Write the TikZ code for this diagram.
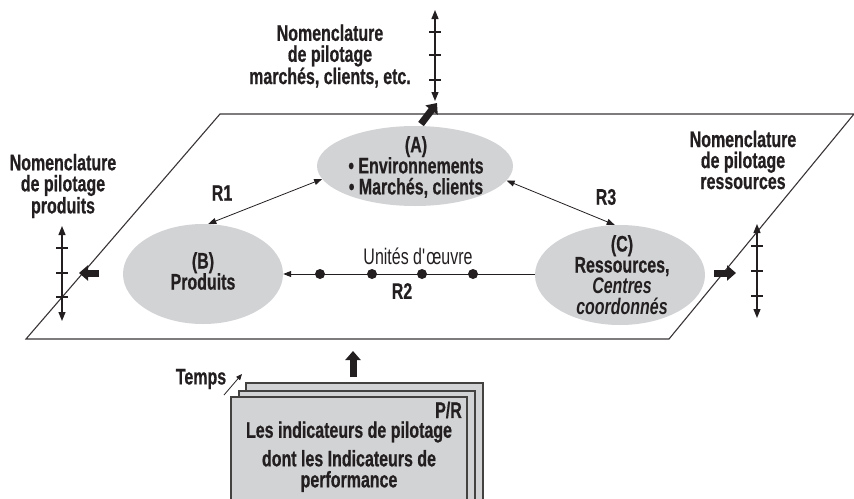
\documentclass[tikz,border=0pt]{standalone}
\usepackage{fontspec}
\setmainfont[FakeStretch=0.71, BoldFeatures={FakeBold=0.6}]{Liberation Sans}
\usetikzlibrary{shapes.geometric,arrows.meta}

\definecolor{ink}{HTML}{231F20}
\definecolor{bubblegray}{HTML}{D2D3D5}

\tikzset{
  bubble/.style={ellipse, fill=bubblegray, draw=none, inner sep=0pt},
  txt/.style={align=center, inner sep=0pt, text=ink},
  frame/.style={draw=ink!90, line width=1.1pt},
  link/.style={draw=ink, line width=0.8pt,
    {Triangle[length=8pt,width=6pt]}-{Triangle[length=8pt,width=6pt]}},
  flow/.style={draw=ink, line width=0.9pt, -{Triangle[length=8pt,width=6pt]}},
  scaleaxis/.style={draw=ink, line width=1.2pt,
    {Triangle[length=9pt,width=7pt]}-{Triangle[length=9pt,width=7pt]}},
  tickmark/.style={draw=ink, line width=1.2pt},
  blockarrow/.style={draw=ink, line width=7pt, -{Triangle[length=9pt,width=15pt]}},
  dot/.style={circle, fill=ink, inner sep=0pt, minimum size=10pt},
  page/.style={draw=ink!85, line width=1.4pt, fill=bubblegray},
}

\begin{document}
\begin{tikzpicture}[x=1pt,y=-1pt,font=\fontsize{22.5}{21}\selectfont\bfseries]
\useasboundingbox (0,0) rectangle (854,498);
\clip (0,0) rectangle (854,498);

% the plane of the steering model
\draw[frame] (220,114) -- (854,114) -- (669,339) -- (26,339) -- cycle;

% the three poles
\node[bubble, minimum width=196pt, minimum height=80pt] (A) at (415,166) {};
\node[txt] (At) at (416,167) {(A)\\\textbullet\ Environnements\\\textbullet\ Marchés, clients};
\node[bubble, minimum width=160pt, minimum height=100pt] (B) at (203,274) {};
\node[txt] (Bt) at (203,271) {(B)\\Produits};
\node[bubble, minimum width=170pt, minimum height=100pt] (C) at (620,275) {};
\node[txt] (Ct) at (622,275) {(C)\\Ressources,\\{\itshape Centres}\\{\itshape coordonnés}};

% relations between the poles
\draw[link] (A.188) -- (B.84);
\draw[link] (A.-9) -- (C.96);
\draw[flow] (C.west |- 0,274) -- (B.east |- 0,274);
\foreach \x [count=\i] in {320,372,422,473}
  \node[dot] (u\i) at (\x,274) {};
\node[txt] (R1) at (222,193) {R1};
\node[txt] (R3) at (606,197) {R3};
\node[txt] (R2) at (402,291) {R2};
\node[txt, font=\fontsize{22.5}{21}\selectfont\mdseries] (uo) at (418,256) {Unités d\textquotesingle\oe uvre};

% top scale: markets and customers
\node[txt] (nomA) at (330,56) {Nomenclature\\de pilotage\\marchés, clients, etc.};
\coordinate (ta1) at (435,10);
\coordinate (ta2) at (435,101);
\draw[scaleaxis] (ta1) -- (ta2);
\foreach \y in {32,55,80} \draw[tickmark] (429,\y) -- (441,\y);
\coordinate (ba1) at (421,124);
\coordinate (ba2) at (437,103);
\draw[blockarrow] (ba1) -- (ba2);

% left scale: products
\node[txt] (nomB) at (63,186) {Nomenclature\\de pilotage\\produits};
\coordinate (tb1) at (62,226);
\coordinate (tb2) at (62,321);
\draw[scaleaxis] (tb1) -- (tb2);
\foreach \y in {248,273,297} \draw[tickmark] (56,\y) -- (68,\y);
\coordinate (bb1) at (99,273);
\coordinate (bb2) at (79,273);
\draw[blockarrow] (bb1) -- (bb2);

% right scale: resources
\node[txt] (nomC) at (743,160) {Nomenclature\\de pilotage\\ressources};
\coordinate (tc1) at (757,224);
\coordinate (tc2) at (757,318);
\draw[scaleaxis] (tc1) -- (tc2);
\foreach \y in {246,271,296} \draw[tickmark] (751,\y) -- (763,\y);
\coordinate (bc1) at (714,273);
\coordinate (bc2) at (736,273);
\draw[blockarrow] (bc1) -- (bc2);

% stack of indicator sheets over time
\draw[page] (246,383) rectangle (483,510);
\draw[page] (239,391) rectangle (475,510);
\draw[page] (231,397) rectangle (467,510);
\node[txt, anchor=east] (pr) at (462,410) {P/R};
\node[txt] (ind1) at (349,432) {Les indicateurs de pilotage};
\node[txt] (ind2) at (349,471) {dont les Indicateurs de\\performance};
\node[txt] (temps) at (201,379) {Temps};
\coordinate (tp1) at (224,395);
\coordinate (tp2) at (242,374);
\draw[flow, line width=0.8pt, -{Triangle[length=6pt,width=5pt]}] (tp1) -- (tp2);
\coordinate (bd1) at (353,377);
\coordinate (bd2) at (353,351);
\draw[blockarrow] (bd1) -- (bd2);
\end{tikzpicture}
\end{document}
